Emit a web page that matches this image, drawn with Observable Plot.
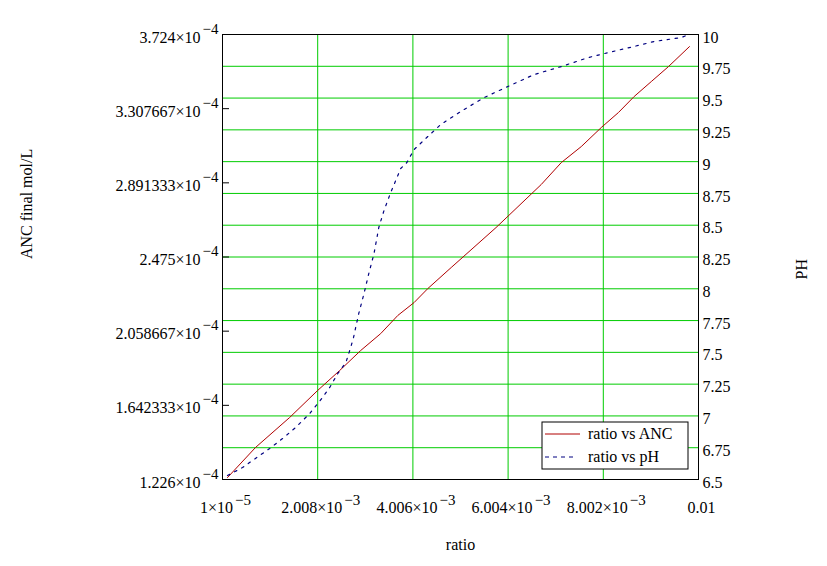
<!DOCTYPE html>
<html><head><meta charset="utf-8">
<script src="https://cdn.jsdelivr.net/npm/d3@7"></script>
<script src="https://cdn.jsdelivr.net/npm/@observablehq/plot@0.6"></script>
<style>body{margin:0;background:#fff;} svg{display:block}</style>
</head><body><div id="chart"></div>
<script>
// ratio vs ANC (mol/L)
const ratioANC = [1.15e-4, 7.04e-4, 1.419e-3, 2.008e-3, 2.47e-3, 2.91e-3, 3.33e-3, 3.69e-3, 4.03e-3, 4.32e-3, 4.81e-3, 5.75e-3, 6.70e-3, 7.12e-3, 7.54e-3, 7.96e-3, 8.32e-3, 8.65e-3, 9.01e-3, 9.37e-3, 9.81e-3];
const anc = [1.237e-4, 1.406e-4, 1.574e-4, 1.726e-4, 1.838e-4, 1.950e-4, 2.045e-4, 2.147e-4, 2.219e-4, 2.298e-4, 2.416e-4, 2.64e-4, 2.882e-4, 3.005e-4, 3.095e-4, 3.202e-4, 3.286e-4, 3.376e-4, 3.460e-4, 3.544e-4, 3.656e-4];
// ratio vs pH
const ratioPH = [1.15e-4, 4.3e-4, 7.0e-4, 1.0e-3, 1.27e-3, 1.545e-3, 1.84e-3, 2.11e-3, 2.26e-3, 2.43e-3, 2.60e-3, 2.70e-3, 2.76e-3, 2.87e-3, 2.98e-3, 3.08e-3, 3.19e-3, 3.29e-3, 3.40e-3, 3.54e-3, 3.69e-3, 3.75e-3, 3.88e-3, 4.03e-3, 4.32e-3, 4.59e-3, 5.01e-3, 5.50e-3, 6.00e-3, 6.55e-3, 7.12e-3, 7.69e-3, 8.11e-3, 8.65e-3, 9.07e-3, 9.64e-3, 9.73e-3];
const ph = [6.531, 6.594, 6.665, 6.744, 6.822, 6.909, 7.019, 7.145, 7.224, 7.334, 7.420, 7.538, 7.617, 7.806, 7.963, 8.120, 8.277, 8.482, 8.616, 8.757, 8.891, 8.946, 8.993, 9.095, 9.198, 9.292, 9.394, 9.504, 9.591, 9.685, 9.748, 9.819, 9.858, 9.906, 9.945, 9.976, 9.99];

// axes
const xDomain = [1e-5, 0.01];
const xTicks = [1e-5, 2.008e-3, 4.006e-3, 6.004e-3, 8.002e-3, 0.01];
const xTickMant = ["1×10", "2.008×10", "4.006×10", "6.004×10", "8.002×10", "0.01"];
const xTickExp = ["−5", "−3", "−3", "−3", "−3", ""];
const ancDomain = [1.226e-4, 3.724e-4];
const ancTicks = [1.226e-4, 1.642333e-4, 2.058667e-4, 2.475e-4, 2.891333e-4, 3.307667e-4, 3.724e-4];
const ancTickMant = ["1.226×10", "1.642333×10", "2.058667×10", "2.475×10", "2.891333×10", "3.307667×10", "3.724×10"];
const ancTickExp = "−4";
const phDomain = [6.5, 10];
const phTicks = [6.5, 6.75, 7, 7.25, 7.5, 7.75, 8, 8.25, 8.5, 8.75, 9, 9.25, 9.5, 9.75, 10];
const phTickLabels = ["6.5", "6.75", "7", "7.25", "7.5", "7.75", "8", "8.25", "8.5", "8.75", "9", "9.25", "9.5", "9.75", "10"];

const ancRows = ratioANC.map((r, i) => ({r, a: anc[i]}));
const phRows = ratioPH.map((r, i) => ({r, p: ph[i]}));
const ancToPh = v => phDomain[0] + (v - ancDomain[0]) / (ancDomain[1] - ancDomain[0]) * (phDomain[1] - phDomain[0]);

const W = 827, H = 566, mL = 222, mR = 129, mT = 34, mB = 87;
const green = "#00cc00", red = "#b00000", blue = "#000080";

const chart = Plot.plot({
  width: W, height: H,
  marginLeft: mL, marginRight: mR, marginTop: mT, marginBottom: mB,
  style: {fontFamily: "'Liberation Serif', 'Times New Roman', serif", fontSize: "16px", color: "black", background: "white", overflow: "visible"},
  x: {domain: xDomain, axis: null},
  y: {domain: phDomain, axis: null},
  marks: [
    Plot.ruleY(phTicks, {stroke: green, strokeWidth: 1}),
    Plot.ruleX(xTicks, {stroke: green, strokeWidth: 1}),
    Plot.line(ancRows, {x: "r", y: d => ancToPh(d.a), stroke: red, strokeWidth: 1}),
    Plot.line(phRows, {x: "r", y: "p", stroke: blue, strokeWidth: 1.2, strokeDasharray: "2.5,5.5"}),
    Plot.frame({stroke: "black"}),
    Plot.tickY(ancTicks, {y: d => ancToPh(d), stroke: "black", insetRight: W - mL - mR - 7}),
    Plot.text(ancTicks, {y: d => ancToPh(d), text: (d, i) => ancTickMant[i], frameAnchor: "left", textAnchor: "end", dx: -4, dy: 3, fontSize: 16}),
    Plot.text(phTicks, {y: d => d, text: (d, i) => phTickLabels[i], frameAnchor: "right", textAnchor: "start", dx: 4, dy: 3, fontSize: 16}),
    Plot.text(xTicks, {x: d => d, text: (d, i) => xTickMant[i], frameAnchor: "bottom", dy: 33, dx: 3, fontSize: 16}),
    Plot.text(["ratio"], {frameAnchor: "bottom", dy: 70, fontSize: 16}),
    Plot.text(["ANC final mol/L"], {frameAnchor: "left", dx: -196, dy: 2, rotate: -90, fontSize: 16}),
    Plot.text(["PH"], {frameAnchor: "right", dx: 103, dy: 2, rotate: -90, fontSize: 16})
  ]
});

// superscript exponents appended to the mantissa labels
const expByLabel = new Map();
ancTickMant.forEach(m => expByLabel.set(m, {exp: ancTickExp, dy: -9}));
xTickMant.forEach((m, i) => { if (xTickExp[i]) expByLabel.set(m, {exp: xTickExp[i], dy: -8}); });
const svg = d3.select(chart);
svg.selectAll("text").each(function() {
  const e = expByLabel.get(this.textContent);
  if (e) d3.select(this).append("tspan").attr("dx", 2).attr("dy", e.dy).attr("font-size", 15).text(e.exp);
});

// legend (inside lower-right corner of the frame)
const R = W - mR, B = H - mB;
const lg = svg.append("g").attr("font-size", 16).attr("text-anchor", "start");
lg.append("rect").attr("x", R - 156).attr("y", B - 57).attr("width", 146).attr("height", 47)
  .attr("fill", "white").attr("stroke", "black");
lg.append("line").attr("x1", R - 153).attr("x2", R - 118).attr("y1", B - 45).attr("y2", B - 45).attr("stroke", red);
lg.append("line").attr("x1", R - 153).attr("x2", R - 121).attr("y1", B - 22).attr("y2", B - 22).attr("stroke", blue).attr("stroke-dasharray", "4,4");
lg.append("text").attr("x", R - 110).attr("y", B - 40).text("ratio vs ANC");
lg.append("text").attr("x", R - 110).attr("y", B - 17).text("ratio vs pH");

document.getElementById("chart").appendChild(chart);
</script>
</body></html>
